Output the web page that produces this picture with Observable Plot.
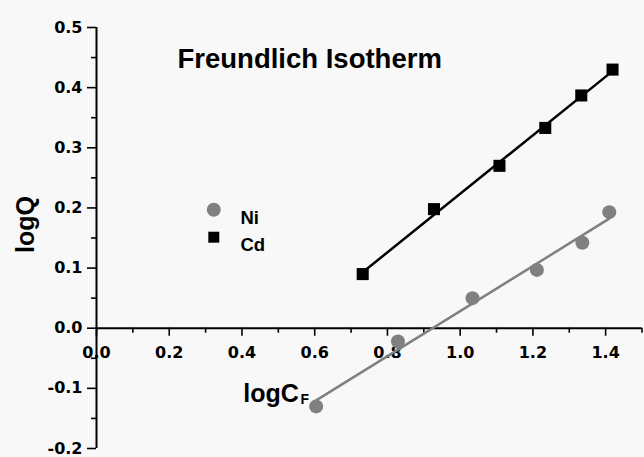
<!DOCTYPE html>
<html><head><meta charset="utf-8">
<script src="https://cdn.jsdelivr.net/npm/d3@7"></script>
<script src="https://cdn.jsdelivr.net/npm/@observablehq/plot@0.6"></script>
<style>html,body{margin:0;padding:0;background:#f8f8f8;}</style>
</head><body><div id="chart"></div>
<script>
// ---- data ----
const niX = [0.604, 0.829, 1.034, 1.211, 1.336, 1.410];
const niY = [-0.130, -0.022, 0.050, 0.097, 0.142, 0.193];
const cdX = [0.732, 0.928, 1.108, 1.234, 1.333, 1.419];
const cdY = [0.090, 0.198, 0.270, 0.333, 0.387, 0.430];
const seriesNames = ["Ni", "Cd"];
const xMajor = [0.0, 0.2, 0.4, 0.6, 0.8, 1.0, 1.2, 1.4];
const xMinor = [0.1, 0.3, 0.5, 0.7, 0.9, 1.1, 1.3, 1.5];
const yMajor = [-0.2, -0.1, 0.0, 0.1, 0.2, 0.3, 0.4, 0.5];
const yMinor = [-0.15, -0.05, 0.05, 0.15, 0.25, 0.35, 0.45];
const titleText = "Freundlich Isotherm";
const xLabelMain = "logC", xLabelSub = "F", yLabelText = "logQ";

const ni = niX.map((x, i) => ({x, y: niY[i]}));
const cd = cdX.map((x, i) => ({x, y: cdY[i]}));

const TEXT = "Liberation Sans, Arial, sans-serif";
const TICK = "DejaVu Sans, sans-serif";
const GRAY = "#808080";
const fmt = d => d.toFixed(1);

const plot = Plot.plot({
  width: 644, height: 457,
  marginTop: 27, marginBottom: 9, marginLeft: 96, marginRight: 2.5,
  style: {background: "#f8f8f8", color: "#000", fontFamily: TICK, fontWeight: "bold", fontSize: "16px", overflow: "visible"},
  x: {domain: [0, 1.5], axis: null},
  y: {domain: [-0.2, 0.5], axis: null},
  marks: [
    // axes lines
    Plot.ruleX([0], {stroke: "#000", strokeWidth: 2}),
    Plot.ruleY([0], {stroke: "#000", strokeWidth: 2}),
    // y ticks (outward, left)
    Plot.ruleY(yMajor, {y: d => d, x1: 0, x2: 0, insetLeft: -9, stroke: "#000", strokeWidth: 1.6}),
    Plot.ruleY(yMinor, {y: d => d, x1: 0, x2: 0, insetLeft: -5, stroke: "#000", strokeWidth: 1.6}),
    Plot.text(yMajor, {y: d => d, x: 0, text: fmt, textAnchor: "end", dx: -14, fontFamily: TICK, fontSize: 16, fontWeight: "bold", fill: "#000"}),
    // x ticks (downward from y=0)
    Plot.ruleX(xMajor, {x: d => d, y1: 0, y2: 0, insetBottom: -8, stroke: "#000", strokeWidth: 1.6}),
    Plot.ruleX(xMinor, {x: d => d, y1: 0, y2: 0, insetBottom: -5, stroke: "#000", strokeWidth: 1.6}),
    Plot.text(xMajor, {x: d => d, y: 0, text: fmt, dy: 25, fontFamily: TICK, fontSize: 16, fontWeight: "bold", fill: "#000"}),
    // data
    Plot.dot(ni, {x: "x", y: "y", r: 7, fill: GRAY}),
    Plot.dot(cd, {x: "x", y: "y", symbol: "square", r: 6.8, fill: "#000"}),
    Plot.linearRegressionY(ni, {x: "x", y: "y", stroke: GRAY, strokeWidth: 2.5, ci: 0}),
    Plot.linearRegressionY(cd, {x: "x", y: "y", stroke: "#000", strokeWidth: 2.5, ci: 0}),
    // title
    Plot.text([titleText], {text: d => d, frameAnchor: "top-left", textAnchor: "start", dx: 81, dy: 20.8, fontFamily: TEXT, fontSize: 27.5, fontWeight: "bold", fill: "#000"}),
    // legend
    Plot.dot([seriesNames[0]], {frameAnchor: "top-left", dx: 117.3, dy: 182.3, r: 7, fill: GRAY}),
    Plot.dot([seriesNames[1]], {frameAnchor: "top-left", dx: 117.3, dy: 209.7, symbol: "square", r: 6.2, fill: "#000"}),
    Plot.text([seriesNames[0]], {text: d => d, frameAnchor: "top-left", textAnchor: "start", dx: 144, dy: 182.9, fontFamily: TEXT, fontSize: 18.5, fontWeight: "bold", fill: "#000"}),
    Plot.text([seriesNames[1]], {text: d => d, frameAnchor: "top-left", textAnchor: "start", dx: 144, dy: 209.9, fontFamily: TEXT, fontSize: 18.5, fontWeight: "bold", fill: "#000"}),
    // axis labels
    Plot.text([xLabelMain], {text: d => d, frameAnchor: "top-left", textAnchor: "start", dx: 146.7, dy: 357, fontFamily: TEXT, fontSize: 25, fontWeight: "bold", fill: "#000"}),
    Plot.text([xLabelSub], {text: d => d, frameAnchor: "top-left", textAnchor: "start", dx: 204, dy: 366.5, fontFamily: TEXT, fontSize: 14, fontWeight: "bold", fill: "#000"}),
    Plot.text([yLabelText], {text: d => d, frameAnchor: "left", rotate: -90, dx: -71, dy: 15, fontFamily: TEXT, fontSize: 25, fontWeight: "bold", fill: "#000"})
  ]
});
document.getElementById("chart").appendChild(plot);
</script>
</body></html>
